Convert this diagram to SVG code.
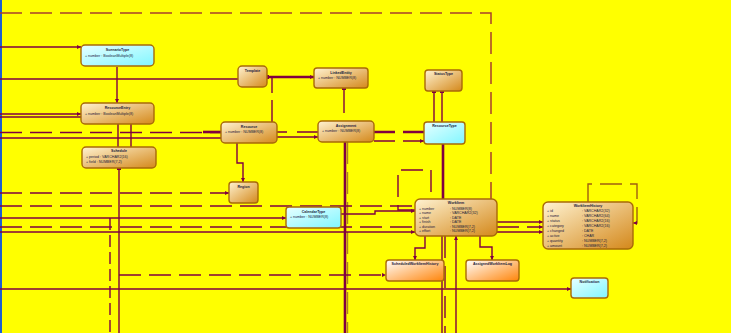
<svg xmlns="http://www.w3.org/2000/svg" width="731" height="333" viewBox="0 0 731 333">
<defs>
<linearGradient id="go" x1="0" y1="0" x2="1" y2="1"><stop offset="0" stop-color="#FFF3D2"/><stop offset="1" stop-color="#D4881A"/></linearGradient>
<linearGradient id="gc" x1="0" y1="0" x2="1" y2="1"><stop offset="0" stop-color="#E8FFFF"/><stop offset="1" stop-color="#80F6FF"/></linearGradient>
<linearGradient id="gw" x1="0" y1="0" x2="1" y2="1"><stop offset="0" stop-color="#FFFFFF"/><stop offset="1" stop-color="#FF8408"/></linearGradient>
<marker id="arr" viewBox="0 0 6 6" refX="6" refY="3" markerWidth="4" markerHeight="4" orient="auto" markerUnits="userSpaceOnUse"><path d="M0,0 L6,3 L0,6 Z" fill="#800040"/></marker>
<marker id="sq" viewBox="0 0 4 4" refX="2" refY="2" markerWidth="4" markerHeight="4" orient="auto" markerUnits="userSpaceOnUse"><rect width="4" height="4" fill="#800040"/></marker>
<style>
.c{fill:none;stroke:#800040;stroke-width:1.4}
.t{stroke-width:2.6}
.d{stroke-dasharray:22 8}
.dd{stroke-dasharray:12 5}
.b{fill:none;stroke:#A8402C;stroke-width:1.5;stroke-dasharray:22 8}
.n rect{stroke:#A86A08;stroke-width:1.4}
.o{fill:url(#go)}
.cy{fill:url(#gc)}
.w{fill:url(#gw)}
text{font-family:"Liberation Sans",Arial,sans-serif;font-size:3.6px;fill:#1A1A3A}
.h{text-anchor:middle;font-weight:bold}
</style>
</defs>
<rect width="731" height="333" fill="#FFFF00"/>
<rect x="0" y="0" width="2" height="333" fill="#1E5FD0"/>

<g id="connectors">
<path class="b" d="M0,13 H491 V199"/>
<path class="c" d="M0,47 H81" marker-end="url(#arr)"/>
<path class="c" d="M117,67 V103" marker-end="url(#arr)"/>
<path class="c" d="M0,79 H238"/>
<path class="c" d="M0,114 H81" marker-end="url(#arr)"/>
<path class="c" d="M0,117 H81"/>
<path class="c" d="M118,124 V147"/>
<path class="c" d="M131,124 V147"/>
<path class="c d" d="M0,132.5 H221"/>
<path class="c" d="M0,138 H221"/>
<path class="c t" d="M203,132 H221"/>
<path class="c" d="M277,132 H287 M297,132 H318"/>
<path class="c" d="M277,137 H318" marker-end="url(#arr)"/>
<path class="c t" d="M374,132 H395 M403,132 H424"/>
<path class="c" d="M374,141 H395 M403,141 H424" marker-end="url(#arr)"/>
<path class="c t" d="M267,77 H314" marker-start="url(#sq)" marker-end="url(#arr)"/>
<path class="c" d="M272,77 V93 M272,100 V122"/>
<path class="c" d="M344,88 V113" marker-start="url(#sq)"/>
<path class="c t" d="M345,142 V333"/>
<path class="c d" d="M347.5,142 V333" style="stroke:#B08020"/>
<path class="c" d="M237,143 V163 H243 V182" marker-end="url(#arr)"/>
<path class="c d" d="M0,193 H229" marker-end="url(#arr)"/>
<path class="c d" d="M0,206 H415"/>
<path class="c" d="M0,218 H286" marker-end="url(#arr)"/>
<path class="c" d="M341,214 H375 V211 H415" marker-end="url(#arr)"/>
<path class="c d" d="M0,227 H415"/>
<path class="c" d="M0,232 H415" marker-end="url(#arr)"/>
<path class="c" d="M119,168 V333" marker-start="url(#sq)"/>
<path class="c dd" d="M110,218 V333"/>
<path class="c d" d="M119,275 H386" marker-end="url(#arr)"/>
<path class="c" d="M0,289 H571" marker-end="url(#arr)"/>
<path class="c" d="M434,91 V122" marker-start="url(#sq)"/>
<path class="c" d="M442,91 V122" marker-start="url(#sq)"/>
<path class="c t" d="M443,144 V199"/>
<path class="c" d="M442,236 V333"/>
<path class="c d" d="M445,236 V333"/>
<path class="c" d="M456,333 V236" marker-end="url(#arr)"/>
<path class="c" d="M425,236 V248 H415 V260" marker-end="url(#arr)"/>
<path class="c" d="M480,236 V247 H492 V260" marker-end="url(#arr)"/>
<path class="c d" d="M415,210 H398 V170 H431 V199"/>
<path class="c d" d="M588,202 V184 H637 V223 H633" marker-end="url(#arr)" style="stroke:#A06010"/>
<path class="c" d="M497,222 H543" marker-end="url(#arr)"/>
<path class="c d" d="M497,227 H543" marker-end="url(#arr)"/>
<path class="c" d="M497,232 H543" marker-end="url(#arr)"/>
</g>

<g id="n1" class="n"><rect class="cy" x="81" y="45" width="73" height="21" rx="4"/><text class="h" x="117.5" y="51">ScenarioType</text><text x="85" y="57">+  number  : BooleanMultiple(8)</text></g>
<g id="n2" class="n"><rect class="o" x="81" y="103" width="73" height="21" rx="4"/><text class="h" x="117.5" y="108.5">ResourceEntry</text><text x="85" y="115">+  number  : BooleanMultiple(8)</text></g>
<g id="n3" class="n"><rect class="o" x="82" y="147" width="74" height="21" rx="4"/><text class="h" x="119" y="152">Schedule</text><text x="86" y="157.5">+  period    : VARCHAR2(16)</text><text x="86" y="162.5">+  field       : NUMBER(7,2)</text></g>
<g id="n4" class="n"><rect class="o" x="238" y="66" width="29" height="21" rx="4"/><text class="h" x="252.5" y="71.5">Template</text></g>
<g id="n5" class="n"><rect class="o" x="314" y="68" width="54" height="20" rx="3"/><text class="h" x="341" y="73.5">LinkedEntity</text><text x="318" y="79">+  number : NUMBER(8)</text></g>
<g id="n6" class="n"><rect class="o" x="221" y="122" width="56" height="21" rx="4"/><text class="h" x="249" y="127.5">Resource</text><text x="225" y="133">+  number : NUMBER(8)</text></g>
<g id="n7" class="n"><rect class="o" x="318" y="121" width="56" height="21" rx="4"/><text class="h" x="346" y="126.5">Assignment</text><text x="322" y="132">+  number : NUMBER(8)</text></g>
<g id="n8" class="n"><rect class="o" x="425" y="70" width="37" height="21" rx="3"/><text class="h" x="443.5" y="75">StatusType</text></g>
<g id="n9" class="n"><rect class="cy" x="424" y="122" width="41" height="22" rx="3"/><text class="h" x="444.5" y="127">ResourceType</text></g>
<g id="n10" class="n"><rect class="o" x="229" y="182" width="29" height="21" rx="3"/><text class="h" x="243.5" y="187.5">Region</text></g>
<g id="n11" class="n"><rect class="cy" x="286" y="207" width="55" height="21" rx="3"/><text class="h" x="313.5" y="212.5">CalendarType</text><text x="290" y="218">+  number : NUMBER(8)</text></g>
<g id="n12" class="n"><rect class="o" x="415" y="199" width="82" height="37" rx="5"/><text class="h" x="456" y="204">WorkItem</text><text x="419" y="209.5">+  number</text><text x="450" y="209.5">: NUMBER(8)</text><text x="419" y="214">+  name</text><text x="450" y="214">: VARCHAR2(32)</text><text x="419" y="218.5">+  start</text><text x="450" y="218.5">: DATE</text><text x="419" y="223">+  finish</text><text x="450" y="223">: DATE</text><text x="419" y="227.5">+  duration</text><text x="450" y="227.5">: NUMBER(7,2)</text><text x="419" y="232">+  effort</text><text x="450" y="232">: NUMBER(7,2)</text></g>
<g id="n13" class="n"><rect class="o" x="543" y="202" width="90" height="47" rx="5"/><text class="h" x="588" y="207">WorkItemHistory</text><text x="547" y="211.5">+  id</text><text x="582" y="211.5">: VARCHAR2(32)</text><text x="547" y="216.5">+  name</text><text x="582" y="216.5">: VARCHAR2(64)</text><text x="547" y="221.5">+  status</text><text x="582" y="221.5">: VARCHAR2(16)</text><text x="547" y="226.5">+  category</text><text x="582" y="226.5">: VARCHAR2(16)</text><text x="547" y="231.5">+  changed</text><text x="582" y="231.5">: DATE</text><text x="547" y="236.5">+  active</text><text x="582" y="236.5">: CHAR</text><text x="547" y="241.5">+  quantity</text><text x="582" y="241.5">: NUMBER(7,2)</text><text x="547" y="246.5">+  amount</text><text x="582" y="246.5">: NUMBER(7,2)</text></g>
<g id="n14" class="n"><rect class="w" x="386" y="260" width="58" height="21" rx="3"/><text class="h" x="415" y="264.5">ScheduledWorkItemHistory</text></g>
<g id="n15" class="n"><rect class="w" x="466" y="260" width="53" height="21" rx="3"/><text class="h" x="492.5" y="264.5">AssignedWorkItemLog</text></g>
<g id="n16" class="n"><rect class="cy" x="571" y="278" width="37" height="20" rx="3"/><text class="h" x="589.5" y="283">Notification</text></g>
</svg>
